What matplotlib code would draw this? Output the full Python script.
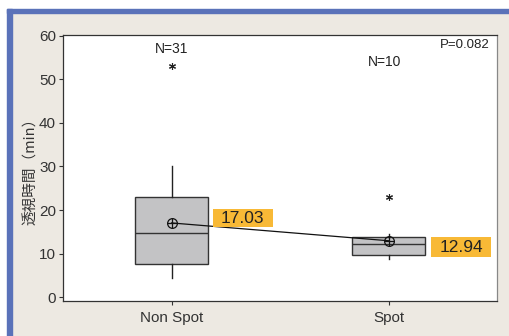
import matplotlib.pyplot as plt
from matplotlib.patches import Rectangle

groups = ["Non Spot", "Spot"]
counts = [31, 10]
medians = [14.8, 12.1]
q1 = [7.6, 9.7]
q3 = [23.0, 13.9]
whisker_low = [4.3, 8.7]
whisker_high = [30.1, 14.4]
outliers = [[53.1], [22.9]]
means = [17.03, 12.94]
p_value = "P=0.082"

plt.rcParams["font.family"] = ["Liberation Sans", "Noto Sans CJK JP", "DejaVu Sans"]

W, H = 509, 336
fig = plt.figure(figsize=(W / 100, H / 100), dpi=100)
fig.patch.set_facecolor("white")


def fig_rect(x0, y0, x1, y1, color):
    # pixel box (top-left origin) -> figure patch, kept behind the axes
    fig.patches.append(Rectangle((x0 / W, 1 - y1 / H), (x1 - x0) / W, (y1 - y0) / H,
                                 transform=fig.transFigure, color=color, zorder=-10))


fig_rect(12, 13, W, H, "#ede9e2")
fig_rect(7, 9, 12, H, "#5a72b9")
fig_rect(7, 9, W, 13, "#5a72b9")

ax = fig.add_axes([63 / W, 1 - 301 / H, 434 / W, 266 / H])
ax.set_facecolor("white")

stats = []
for i in range(len(groups)):
    stats.append(dict(med=medians[i], q1=q1[i], q3=q3[i], whislo=whisker_low[i],
                      whishi=whisker_high[i], fliers=outliers[i], label=groups[i]))

pos = [1, 2]
ax.bxp(stats, positions=pos, widths=0.335, patch_artist=True, showcaps=False,
       boxprops=dict(facecolor="#c3c3c5", edgecolor="#333333", linewidth=1.0),
       medianprops=dict(color="#333333", linewidth=1.0),
       whiskerprops=dict(color="#222222", linewidth=1.0),
       flierprops=dict(marker=(6, 2, 0), markersize=5, markeredgecolor="#222222",
                       markeredgewidth=0.8))

ax.plot(pos, means, color="#111111", linewidth=0.9, zorder=5)
ax.plot(pos, means, linestyle="none", marker="o", markersize=7, markerfacecolor="none",
        markeredgecolor="#111111", markeredgewidth=0.9, zorder=6)
ax.plot(pos, means, linestyle="none", marker="+", markersize=7, markeredgecolor="#111111",
        markeredgewidth=0.9, zorder=6)

# orange value labels
label_boxes = [(1.190, 1.466, 16.1, 20.2), (2.196, 2.472, 9.2, 13.8)]
for m, (x0, x1, y0, y1) in zip(means, label_boxes):
    ax.add_patch(Rectangle((x0, y0), x1 - x0, y1 - y0, facecolor="#f8b936",
                           edgecolor="none", zorder=7))
    ax.text((x0 + x1) / 2, (y0 + y1) / 2, f"{m:.2f}", ha="center", va="center",
            fontsize=12.5, color="#222222", zorder=8)

ax.text(1, 56.9, f"N={counts[0]}", ha="center", va="center", fontsize=10, color="#222222")
ax.text(1.98, 53.9, f"N={counts[1]}", ha="center", va="center", fontsize=10, color="#222222")
ax.text(2.468, 57.9, p_value, ha="right", va="center", fontsize=9.5, color="#222222")

ax.set_xlim(0.5, 2.5)
ax.set_ylim(-0.9, 60.2)
ax.set_yticks([0, 10, 20, 30, 40, 50, 60])
ax.set_xticks(pos)
ax.set_xticklabels(groups)
ax.tick_params(axis="both", direction="out", length=3, width=0.8, colors="#333333",
               labelsize=11, labelcolor="#333333")
ax.tick_params(axis="y", pad=2)
ax.tick_params(axis="x", pad=4)
for s in ax.spines.values():
    s.set_color("#333333")
    s.set_linewidth(0.9)
ax.spines["right"].set_color("#888888")

ax.set_ylabel("透視時間（min）", fontsize=10.5, color="#333333", labelpad=1,
              family=["Noto Sans CJK JP", "DejaVu Sans"])

fig.savefig("out.png", dpi=100, facecolor=fig.get_facecolor())
